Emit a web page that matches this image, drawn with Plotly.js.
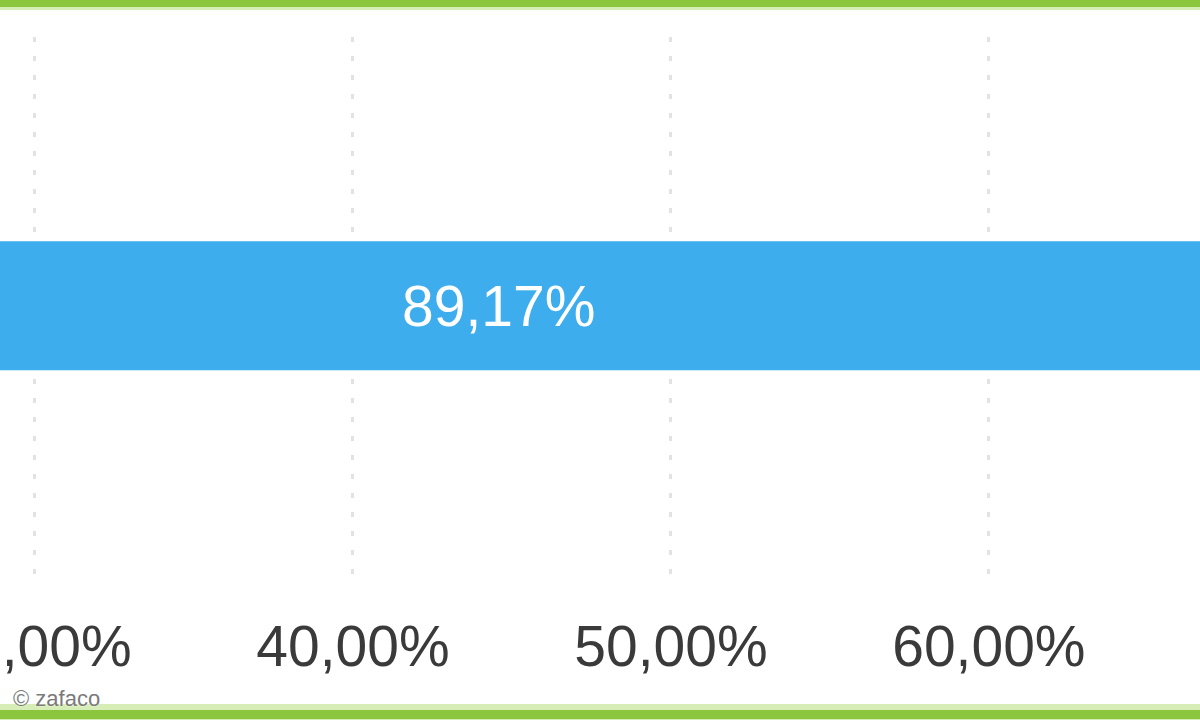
<!DOCTYPE html>
<html>
<head>
<meta charset="utf-8">
<script src="https://cdn.plot.ly/plotly-3.0.1.min.js"></script>
<style>
  html, body { margin: 0; padding: 0; background: #ffffff; }
  #chart { width: 1200px; height: 720px; }
</style>
</head>
<body>
<div id="chart"></div>
<script>
// ---- data ----
const categories = ["Anteil"];
const values = [89.17];
const tickValues = [30, 40, 50, 60, 70];
const tickLabels = ["30,00%", "40,00%", "50,00%", "60,00%", "70,00%"];
const copyrightText = "© zafaco";

const trace = {
  type: "bar",
  orientation: "h",
  y: categories,
  x: values,
  width: 0.24,
  marker: { color: "#3dadee", line: { width: 0 } },
  texttemplate: "%{x:.2f}%",
  textposition: "inside",
  insidetextanchor: "middle",
  textfont: { family: "Liberation Sans, Arial, sans-serif", size: 57, color: "#ffffff" },
  constraintext: "none",
  hoverinfo: "skip"
};

const layout = {
  width: 1200,
  height: 720,
  margin: { l: 0, r: 0, t: 37, b: 137, pad: 0 },
  paper_bgcolor: "#ffffff",
  plot_bgcolor: "#ffffff",
  separators: ",.",
  showlegend: false,
  xaxis: {
    range: [28.9, 66.64],
    tickmode: "array",
    tickvals: tickValues,
    ticktext: tickLabels,
    ticks: "",
    ticklabelstandoff: 25,
    ticklabeloverflow: "allow",
    tickfont: { family: "Liberation Sans, Arial, sans-serif", size: 57, color: "#3a3a3a" },
    showgrid: true,
    gridcolor: "#e2e2e2",
    gridwidth: 3,
    griddash: "5px,14px",
    zeroline: false,
    showline: false,
    fixedrange: true
  },
  yaxis: {
    type: "category",
    range: [-0.516, 0.5],
    showticklabels: false,
    ticks: "",
    showgrid: false,
    zeroline: false,
    showline: false,
    fixedrange: true
  },
  shapes: [
    // top green rule
    { type: "rect", xref: "paper", yref: "paper", x0: 0, x1: 1,
      ysizemode: "pixel", yanchor: 1, y0: 27, y1: 37,
      fillcolor: "#d6edb5", line: { width: 0 }, layer: "above" },
    { type: "rect", xref: "paper", yref: "paper", x0: 0, x1: 1,
      ysizemode: "pixel", yanchor: 1, y0: 30, y1: 37,
      fillcolor: "#8cc63f", line: { width: 0 }, layer: "above" },
    // bottom green rule
    { type: "rect", xref: "paper", yref: "paper", x0: 0, x1: 1,
      ysizemode: "pixel", yanchor: 0, y0: -121, y1: -137,
      fillcolor: "#d6edb5", line: { width: 0 }, layer: "above" },
    { type: "rect", xref: "paper", yref: "paper", x0: 0, x1: 1,
      ysizemode: "pixel", yanchor: 0, y0: -127, y1: -136,
      fillcolor: "#8cc63f", line: { width: 0 }, layer: "above" }
  ],
  annotations: [
    { text: copyrightText, xref: "paper", yref: "paper",
      x: 0, y: 0, xanchor: "left", yanchor: "middle",
      xshift: 11, yshift: -115, showarrow: false,
      font: { family: "Liberation Sans, Arial, sans-serif", size: 22, color: "#7a7a7a", shadow: "0px 0px 2px #ffffff" } }
  ]
};

Plotly.newPlot("chart", [trace], layout, { displayModeBar: false, staticPlot: true });
</script>
</body>
</html>
